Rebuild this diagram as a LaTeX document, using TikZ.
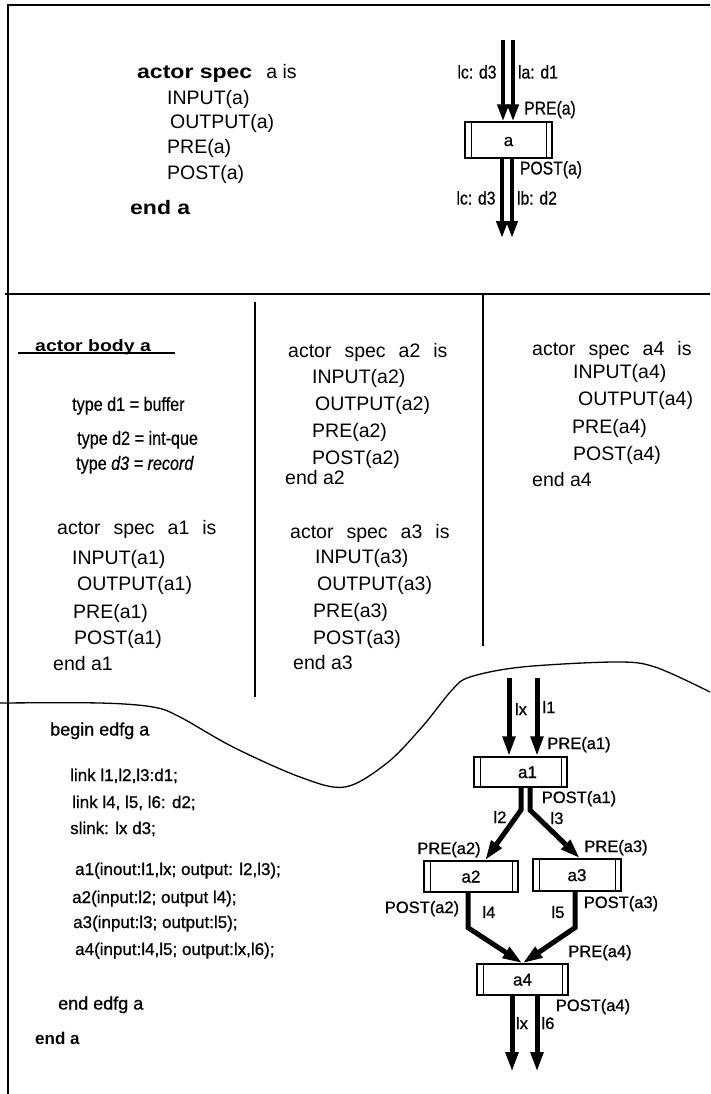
\documentclass[tikz,border=0pt]{standalone}
\usepackage{fontspec}
\setmainfont{Liberation Sans}
\newfontfamily\widebf[FakeStretch=1.18]{Liberation Sans}
\newfontfamily\narrowf[FakeStretch=0.85,FakeBold=0.5]{Liberation Sans}
\newfontfamily\specf[WordSpace=2.4]{Liberation Sans}
\newfontfamily\codef[FakeBold=0.8]{Liberation Sans}
\usetikzlibrary{arrows.meta}
\begin{document}
\begin{tikzpicture}[x=1pt,y=-1pt,
  frame/.style={line width=1.8pt},
  divider/.style={line width=1.3pt},
  txt/.style={anchor=west, inner sep=0pt, text depth=0pt},
  body/.style={txt, text height=14pt, font=\fontsize{19.5}{22}\selectfont},
  spec/.style={txt, text height=14pt, font=\specf\fontsize{19.5}{22}\selectfont},
  typel/.style={txt, text height=13.5pt, font=\narrowf\fontsize{19}{22}\selectfont},
  code/.style={txt, text height=12pt, font=\codef\fontsize{17}{20}\selectfont},
  codeb/.style={txt, text height=13pt, font=\codef\fontsize{18}{21}\selectfont},
  tlbl/.style={inner sep=0pt, text height=13pt, text depth=0pt, font=\narrowf\fontsize{18.5}{21}\selectfont},
  blbl/.style={inner sep=0pt, text height=12pt, text depth=0pt, font=\codef\fontsize{16.5}{19}\selectfont},
  actorbox/.style={draw, line width=1.3pt, inner sep=0pt, text height=12pt, text depth=0pt,
    font=\codef\fontsize{17}{20}\selectfont, path picture={
     \draw[line width=0.9pt] ([xshift=6pt]path picture bounding box.north west) -- ([xshift=6pt]path picture bounding box.south west);
     \draw[line width=0.9pt] ([xshift=-6pt]path picture bounding box.north east) -- ([xshift=-6pt]path picture bounding box.south east);}},
  flowA/.style={line width=4pt, -{Triangle[length=17pt,width=11pt]}},
  flowB/.style={line width=5pt, -{Triangle[length=20pt,width=12pt]}, line join=miter},
  curve/.style={line width=1.3pt}
]
\fill[white] (0,0) rectangle (710,1094);
\useasboundingbox (0,0) rectangle (710,1094);

% frame and dividers
\draw[frame] (8,1094) -- (8,5) -- (710,5);
\draw[frame] (5,294) -- (710,294);
\draw[divider] (483,294) -- (483,646);
\draw[divider] (255,302) -- (255,697);
\draw[curve] plot[smooth, tension=0.55] coordinates {(0,703) (100,703) (153,707) (180,717) (233,747) (300,777) (345,787) (387,763) (422,727) (452,690) (470,677) (522,667) (615,662) (655,667) (710,692)};

% ---------- top section ----------
\node[body] (sa) at (137,72) {{\widebf\bfseries actor spec}\hspace{14pt}a is};
\node[body] (ia) at (167,98) {INPUT(a)};
\node[body] (oa) at (170,122) {OUTPUT(a)};
\node[body] (pa) at (167,147) {PRE(a)};
\node[body] (qa) at (167,172) {POST(a)};
\node[body] (ea) at (130,207) {\widebf\bfseries end a};

\node[actorbox, minimum width=87pt, minimum height=36pt] (a) at (508.5,140) {a};
\coordinate (ta1) at (503,40);
\coordinate (ta2) at (513,40);
\coordinate (tb1) at (502,238);
\coordinate (tb2) at (512,238);
\draw[flowA] (ta1) -- (ta1 |- a.north);
\draw[flowA] (ta2) -- (ta2 |- a.north);
\draw[flowA] (tb1 |- a.south) -- (tb1);
\draw[flowA] (tb2 |- a.south) -- (tb2);
\node[tlbl] (l1t) at (477,72) {lc: d3};
\node[tlbl] (l2t) at (538,72) {la: d1};
\node[tlbl] (l3t) at (550,108) {PRE(a)};
\node[tlbl] (l4t) at (551,168) {POST(a)};
\node[tlbl] (l5t) at (476,198) {lc: d3};
\node[tlbl] (l6t) at (537,198) {lb: d2};

% ---------- middle section ----------
\node[txt, text height=12pt, font=\widebf\bfseries\fontsize{16.5}{19}\selectfont] (body) at (35,345) {actor body a};
\draw[line width=1.2pt] (18,353) -- (175,353);
\node[typel] (t1) at (72,404) {type d1 = buffer};
\node[typel] (t2) at (77,438) {type d2 = int-que};
\node[typel] (t3) at (76,463) {type \textit{d3 = record}};

\node[spec] (s1) at (57,527) {actor spec a1 is};
\node[body] (i1n) at (72,557) {INPUT(a1)};
\node[body] (o1n) at (77,583) {OUTPUT(a1)};
\node[body] (p1n) at (73,611) {PRE(a1)};
\node[body] (q1n) at (74,637) {POST(a1)};
\node[body] (e1n) at (53,663) {end a1};

\node[spec] (s2) at (288,350) {actor spec a2 is};
\node[body] (i2n) at (312,376) {INPUT(a2)};
\node[body] (o2n) at (315,403) {OUTPUT(a2)};
\node[body] (p2n) at (312,430) {PRE(a2)};
\node[body] (q2n) at (312,457) {POST(a2)};
\node[body] (e2n) at (285,477) {end a2};

\node[spec] (s3) at (290,531) {actor spec a3 is};
\node[body] (i3n) at (315,556) {INPUT(a3)};
\node[body] (o3n) at (317,583) {OUTPUT(a3)};
\node[body] (p3n) at (313,610) {PRE(a3)};
\node[body] (q3n) at (313,637) {POST(a3)};
\node[body] (e3n) at (293,662) {end a3};

\node[spec] (s4) at (532,348) {actor spec a4 is};
\node[body] (i4n) at (573,371) {INPUT(a4)};
\node[body] (o4n) at (578,398) {OUTPUT(a4)};
\node[body] (p4n) at (572,426) {PRE(a4)};
\node[body] (q4n) at (573,453) {POST(a4)};
\node[body] (e4n) at (532,479) {end a4};

% ---------- bottom section ----------
\node[codeb] (c0) at (50,729) {begin edfg a};
\node[code] (c1) at (70,775) {link l1,l2,l3:d1;};
\node[code] (c2) at (72,802) {link l4, l5, l6: d2;};
\node[code] (c3) at (70,828) {slink: lx d3;};
\node[code] (c4) at (75,869) {a1(inout:l1,lx; output: l2,l3);};
\node[code] (c5) at (72,897) {a2(input:l2; output l4);};
\node[code] (c6) at (73,922) {a3(input:l3; output:l5);};
\node[code] (c7) at (75,949) {a4(input:l4,l5; output:lx,l6);};
\node[codeb] (c8) at (58,1003) {end edfg a};
\node[code, font=\bfseries\fontsize{17}{20}\selectfont] (c9) at (35,1038) {end a};

\node[actorbox, minimum width=93pt, minimum height=30pt] (a1) at (520.5,772) {\hspace{14pt}a1};
\node[actorbox, minimum width=94pt, minimum height=31pt] (a2) at (471,876.5) {a2};
\node[actorbox, minimum width=88pt, minimum height=32pt] (a3) at (577,875) {a3};
\node[actorbox, minimum width=91pt, minimum height=31pt] (a4) at (522.5,979.5) {a4};

\coordinate (in1) at (509,678);
\coordinate (in2) at (537,678);
\coordinate (b2) at (521,810);
\coordinate (b3) at (530,810);
\coordinate (out1) at (512,1072);
\coordinate (out2) at (537,1072);
\draw[flowB] (in1) -- (in1 |- a1.north);
\draw[flowB] (in2) -- (in2 |- a1.north);
\draw[flowB] (b2 |- a1.south) -- (b2) -- ([xshift=14pt]a2.north);
\draw[flowB] (b3 |- a1.south) -- (b3) -- ([xshift=3pt]a3.north);
\draw[flowB] ([xshift=-3pt]a2.south) -- ++(0,35) -- (a4.north);
\draw[flowB] ([xshift=-2pt]a3.south) -- ++(0,36) -- (a4.north);
\draw[flowB] (out1 |- a4.south) -- (out1);
\draw[flowB] (out2 |- a4.south) -- (out2);

\node[blbl] (lx1) at (521,709) {lx};
\node[blbl] (ll1) at (549,707) {l1};
\node[blbl] (pre1) at (579,743) {PRE(a1)};
\node[blbl] (post1) at (579,797) {POST(a1)};
\node[blbl] (ll2) at (500,817) {l2};
\node[blbl] (ll3) at (557,818) {l3};
\node[blbl] (pre2) at (449,848) {PRE(a2)};
\node[blbl] (pre3) at (616,846) {PRE(a3)};
\node[blbl] (post2) at (422,907) {POST(a2)};
\node[blbl] (ll4) at (489,912) {l4};
\node[blbl] (ll5) at (558,912) {l5};
\node[blbl] (post3) at (621,902) {POST(a3)};
\node[blbl] (pre4) at (600,951) {PRE(a4)};
\node[blbl] (post4) at (593,1005) {POST(a4)};
\node[blbl] (lx2) at (522,1023) {lx};
\node[blbl] (ll6) at (548,1023) {l6};
\end{tikzpicture}
\end{document}
